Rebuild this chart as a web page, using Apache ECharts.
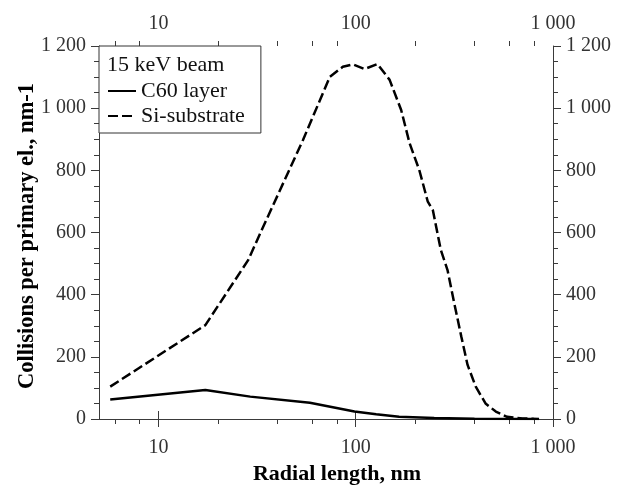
<!DOCTYPE html>
<html><head><meta charset="utf-8">
<script src="https://cdn.jsdelivr.net/npm/echarts@6/dist/echarts.min.js"></script>
<style>html,body{margin:0;padding:0;background:#fff}#c{width:624px;height:486px}</style>
</head><body><div id="c"></div>
<script>
// Data
const siX = [5.7, 17.3, 28.5, 33.4, 54, 74, 86, 96.6, 111, 129, 148.6, 170, 187.6, 210, 232, 246, 270, 292, 316, 343, 369, 406, 455, 513, 585, 700, 850];
const siY = [104, 302, 511, 608, 897, 1101, 1133, 1141, 1126, 1142, 1091, 994, 887, 801, 699, 672, 544, 479, 372, 265, 174, 104, 50, 24, 7, 2, 0];
const c60X = [5.7, 17.3, 29.2, 58.6, 98.6, 127, 166, 250, 400, 800];
const c60Y = [63, 93, 72, 52, 24, 15, 7, 3, 1, 0];
const xMinorTicks = [6, 8, 20, 40, 60, 80, 200, 400, 600, 800];
const seriesNames = ['C60 layer', 'Si-substrate'];
const legendTitle = '15 keV beam';
const xTitle = 'Radial length, nm';
const yTitle = 'Collisions per primary el., nm-1';

const FONT = '"Liberation Serif", "Times New Roman", serif';
const fmt = v => String(v).replace(/\B(?=(\d{3})+(?!\d))/g, ' ');
const axisColor = '#3a3a3a';
const labelColor = '#333';
const X_MIN = 5, X_MAX = 1000, Y_MIN = 0, Y_MAX = 1200;

function xAxisDef(pos, withName) {
  return {
    type: 'log', logBase: 10, min: X_MIN, max: X_MAX, position: pos,
    axisLine: { show: true, lineStyle: { color: axisColor, width: 1 } },
    axisTick: { show: true, inside: false, length: 8, lineStyle: { color: axisColor } },
    axisLabel: { formatter: fmt, showMinLabel: false, fontFamily: FONT, fontSize: 20, color: labelColor, margin: pos === 'top' ? 12 : 19 },
    splitLine: { show: false }, minorTick: { show: false },
    name: withName ? xTitle : '', nameLocation: 'middle', nameGap: 44, nameMoveOverlap: false,
    nameTextStyle: { fontFamily: FONT, fontSize: 22, fontWeight: 'bold', color: '#000', padding: [0, 0, 0, 22] }
  };
}
function yAxisDef(pos, withName) {
  return {
    type: 'value', min: Y_MIN, max: Y_MAX, interval: 200, position: pos,
    axisLine: { show: true, lineStyle: { color: axisColor, width: 1 } },
    axisTick: { show: true, inside: false, length: 8, lineStyle: { color: axisColor } },
    minorTick: { show: true, splitNumber: 4, length: 5, lineStyle: { color: axisColor } },
    axisLabel: { formatter: fmt, fontFamily: FONT, fontSize: 20, color: labelColor, margin: 13 },
    splitLine: { show: false },
    name: withName ? yTitle : '', nameLocation: 'middle', nameGap: 60, nameRotate: 90, nameMoveOverlap: false,
    nameTextStyle: { fontFamily: FONT, fontSize: 22.5, fontWeight: 'bold', color: '#000', padding: [0, 7, 0, 0] }
  };
}

const chart = echarts.init(document.getElementById('c'), null, { renderer: 'canvas' });
chart.setOption({
  animation: false,
  backgroundColor: '#fff',
  grid: { left: 99, right: 71, top: 46, bottom: 67, containLabel: false, outerBoundsMode: 'none' },
  title: { text: legendTitle, left: 107, top: 54, padding: 0, textStyle: { fontFamily: FONT, fontSize: 22, fontWeight: 'normal', color: '#111' } },
  legend: {
    orient: 'vertical', left: 99, top: 46, padding: [34, 16, 6, 8], itemGap: 3,
    itemWidth: 28, itemHeight: 14, itemTextGap: 15,
    itemStyle: { opacity: 0 },
    borderColor: '#333', borderWidth: 1, borderRadius: 0, backgroundColor: '#fff',
    textStyle: { fontFamily: FONT, fontSize: 22, color: '#111' },
    data: seriesNames
  },
  xAxis: [xAxisDef('bottom', true), xAxisDef('top', false)],
  yAxis: [yAxisDef('left', true), yAxisDef('right', false)],
  series: [
    { name: seriesNames[0], type: 'line', xAxisIndex: 0, yAxisIndex: 0, symbol: 'none', smooth: false,
      lineStyle: { color: '#000', width: 2.5, type: 'solid' }, itemStyle: { color: '#000' },
      data: c60X.map((x, i) => [x, c60Y[i]]) },
    { name: seriesNames[1], type: 'line', xAxisIndex: 0, yAxisIndex: 0, symbol: 'none', smooth: false,
      lineStyle: { color: '#000', width: 2.5, type: [10, 4] }, itemStyle: { color: '#000' },
      data: siX.map((x, i) => [x, siY[i]]) },
    { name: 'minor-x-ticks', type: 'custom', xAxisIndex: 0, yAxisIndex: 0, clip: false, silent: true,
      encode: { x: 0, y: 1 },
      data: xMinorTicks.map(v => [v, Y_MIN]),
      renderItem: function (params, api) {
        const b = api.coord([api.value(0), Y_MIN]);
        const t = api.coord([api.value(0), Y_MAX]);
        const x = Math.round(b[0]) + 0.5;
        const st = { stroke: axisColor, lineWidth: 1 };
        return { type: 'group', children: [
          { type: 'line', shape: { x1: x, y1: b[1], x2: x, y2: b[1] + 5 }, style: st },
          { type: 'line', shape: { x1: x, y1: t[1], x2: x, y2: t[1] - 5 }, style: st }
        ] };
      } }
  ]
});
</script></body></html>
